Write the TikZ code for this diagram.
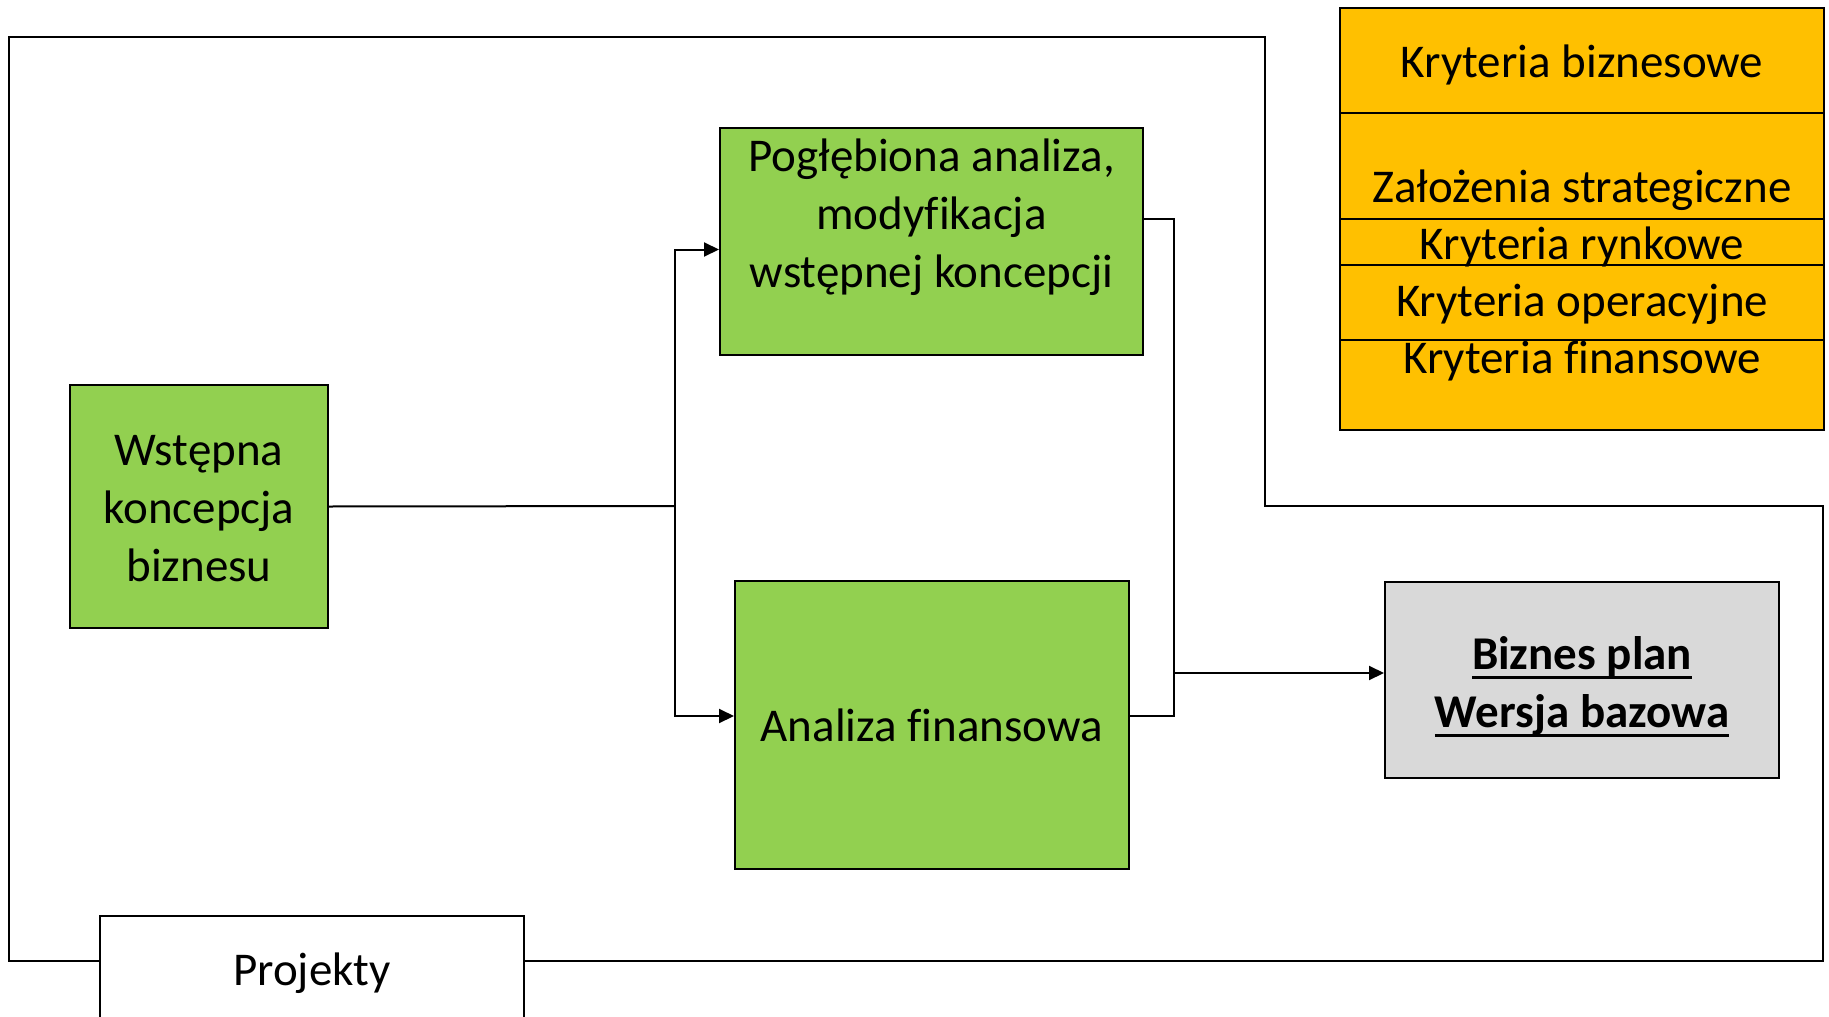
\documentclass[tikz,border=0pt]{standalone}
\usepackage{fontspec}
\setmainfont{Carlito}[Ligatures=NoCommon]
\usetikzlibrary{arrows.meta,calc}

\definecolor{stepgreen}{HTML}{92D050}
\definecolor{critorange}{HTML}{FFC000}
\definecolor{plangray}{HTML}{D9D9D9}

% heavier underline sitting just below the descenders
\newcommand\heavyul[1]{\setbox0\hbox{#1}\rlap{\rule[-\dimexpr\dp0+2pt\relax]{\wd0}{3pt}}\box0}

\begin{document}
\begin{tikzpicture}[x=1pt,y=-1pt,
  txt/.style={font=\fontsize{47}{58}\selectfont, align=center, inner sep=0pt},
  box/.style={draw=black, line width=2pt, inner sep=0pt, txt},
  wire/.style={draw=black, line width=2pt},
  arr/.style={wire, -{Triangle[length=15pt,width=14pt]}}
]
\useasboundingbox (0,0) rectangle (1829,1017);

% process boxes
\node[box, fill=stepgreen, minimum width=258pt, minimum height=243pt] (wst) at (199,506.5) {};
\node[txt] (wsttext) at (199,509) {Wstępna\\koncepcja\\biznesu};
\node[box, fill=stepgreen, minimum width=423pt, minimum height=227pt] (pog) at (931.5,241.5) {};
\node[txt] (pogtext) at (931.5,217.5) {Pogłębiona analiza,\\modyfikacja\\wstępnej koncepcji};
\node[box, fill=stepgreen, minimum width=394pt, minimum height=288pt] (ana) at (932,725)
  {Analiza finansowa};
\node[box, fill=plangray, minimum width=394pt, minimum height=196pt] (biz) at (1582,680) {};
\node[txt, font=\fontsize{47}{58}\selectfont\bfseries] (biztext) at (1582,687)
  {\heavyul{Biznes plan}\\\heavyul{Wersja bazowa}};

% criteria panel
\node[box, fill=critorange, minimum width=484pt, minimum height=422pt] (crit) at (1582,219) {};
\foreach \yy in {113,219,265,340}
  \draw[wire] (crit.west |- 0,\yy) -- (crit.east |- 0,\yy);
\node[txt, anchor=base] (k1) at (1582,77) {Kryteria biznesowe};
\node[txt, anchor=base] (k2) at (1582,202) {Założenia strategiczne};
\node[txt, anchor=base] (k3) at (1582,259) {Kryteria rynkowe};
\node[txt, anchor=base] (k4) at (1582,316) {Kryteria operacyjne};
\node[txt, anchor=base] (k5) at (1582,373) {Kryteria finansowe};

% projects box
\node[box, fill=white, minimum width=424pt, minimum height=114pt] (proj) at (312,973) {Projekty};

% outer frame
\coordinate (f1) at (9,37);
\coordinate (f2) at (1264.5,506);
\coordinate (f3) at (1823,961);
\draw[wire] ($(proj.west)+(0,-12)$) -| (f1) -| (f2) -| (f3) -- ($(proj.east)+(0,-12)$);

% flow connectors
\coordinate (split) at (675,506);
\draw[wire] (wst.east) -- (split);
\draw[arr] (split) |- ($(pog.west)+(0,8)$);
\draw[arr] (split) |- ($(ana.west)+(0,-9)$);

\coordinate (merge) at (1174,673);
\draw[wire] ($(pog.east)+(0,-23)$) -| (merge) |- ($(ana.east)+(0,-9)$);
\draw[arr] (merge) -- (biz.west |- merge);
\end{tikzpicture}
\end{document}
